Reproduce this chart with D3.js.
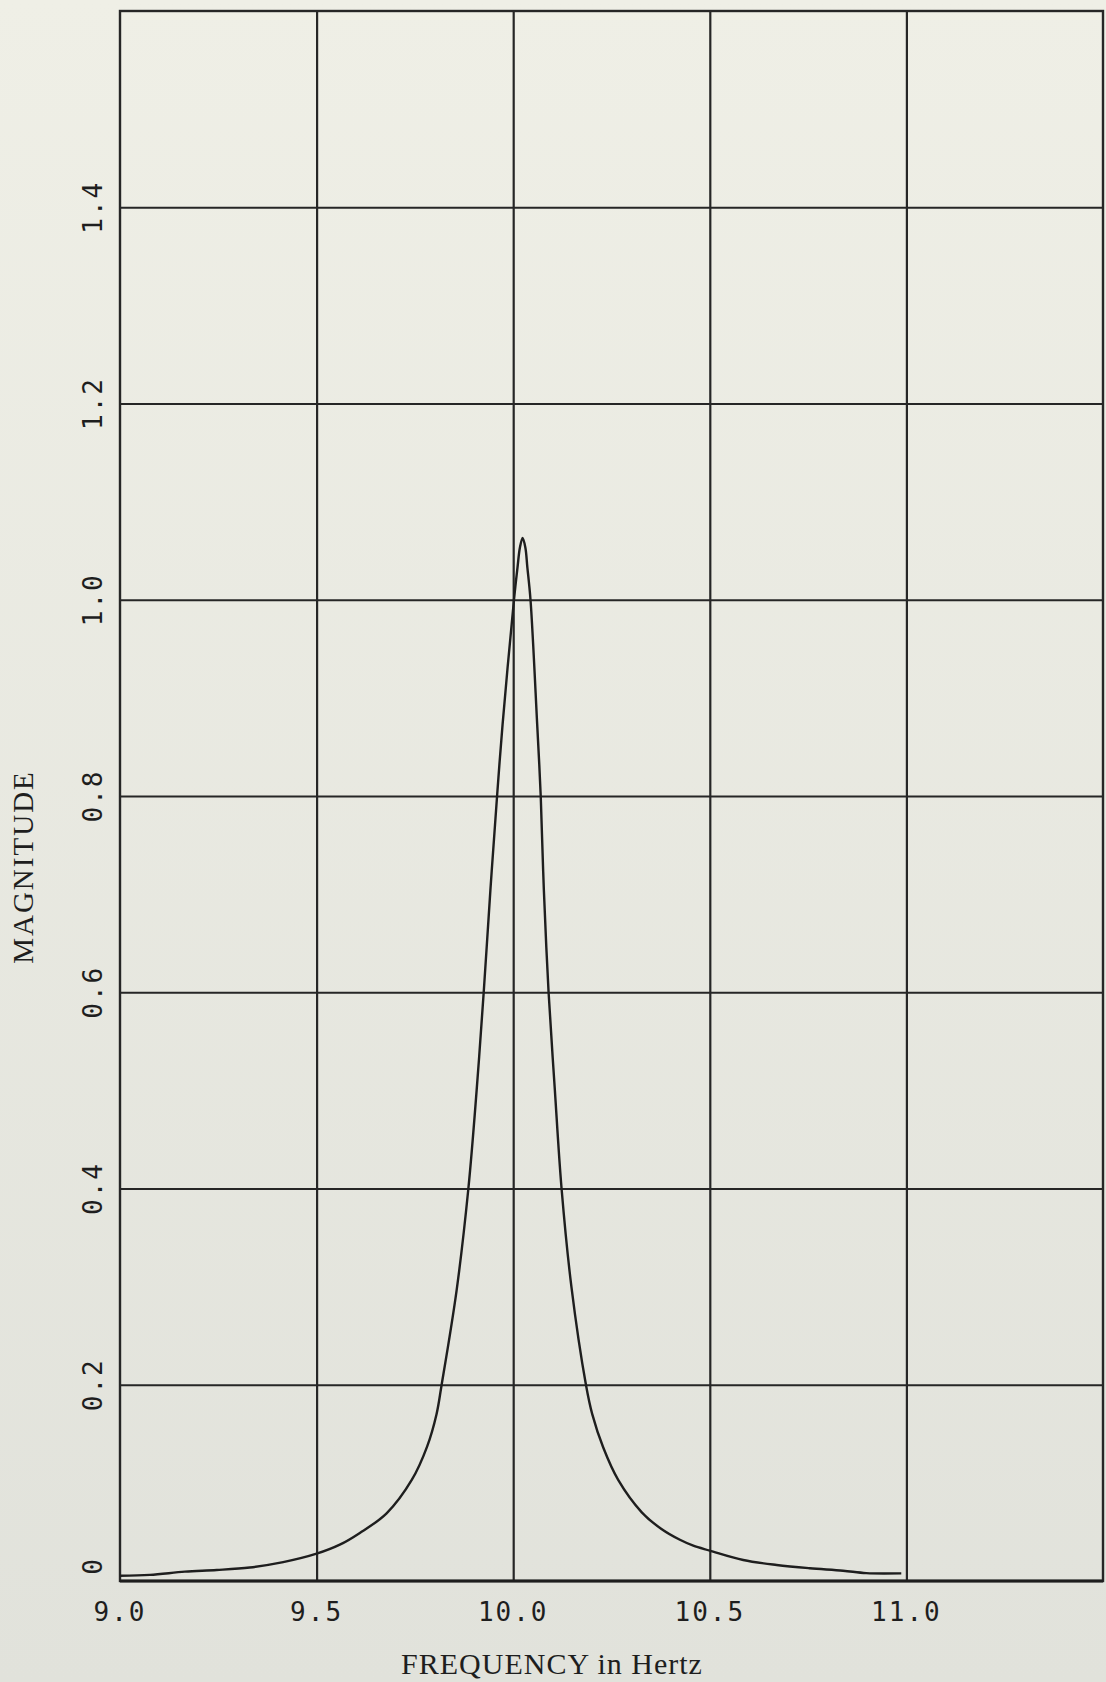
<!DOCTYPE html>
<html>
<head>
<meta charset="utf-8">
<script src="https://cdn.jsdelivr.net/npm/d3@7"></script>
<style>
    body { margin: 0; background: #e9e9e1; }
    .grid line { stroke: #262626; stroke-width: 2.2; }
    .tick-label { font-family: "DejaVu Sans Mono", monospace; font-size: 26px; fill: #1e1e1e; letter-spacing: 2px; }
    .label { font-family: "Liberation Serif", "Times New Roman", serif; fill: #1e1e1e; }
</style>
</head>
<body>
<div id="chart"></div>
<script>
// frequency (Hz) and magnitude
let freq = [9.000, 9.076, 9.165, 9.246, 9.330, 9.415, 9.500, 9.559, 9.610, 9.678,
    9.742, 9.781, 9.805, 9.818, 9.856, 9.886, 9.907, 9.925, 9.942, 9.959,
    9.973, 10.002, 10.011, 10.017, 10.024, 10.031, 10.036, 10.044, 10.061, 10.070,
    10.078, 10.090, 10.106, 10.123, 10.148, 10.185, 10.201, 10.229, 10.267, 10.327,
    10.377, 10.424, 10.458, 10.500, 10.585, 10.670, 10.754, 10.839, 10.898, 10.987];
let magnitude = [0.0054, 0.0062, 0.0095, 0.0112, 0.0138, 0.0192, 0.0278, 0.0370, 0.0490, 0.069,
    0.103, 0.137, 0.170, 0.200, 0.296, 0.400, 0.500, 0.600, 0.704, 0.800,
    0.873, 1.000, 1.033, 1.053, 1.063, 1.053, 1.033, 1.000, 0.873, 0.800,
    0.704, 0.600, 0.500, 0.400, 0.300, 0.200, 0.170, 0.136, 0.103, 0.070,
    0.053, 0.042, 0.036, 0.031, 0.0214, 0.0163, 0.0130, 0.0105, 0.0080, 0.0078];

let xTicks = [9.0, 9.5, 10.0, 10.5, 11.0];
let yTicks = [0, 0.2, 0.4, 0.6, 0.8, 1.0, 1.2, 1.4];
let xDomain = [9.0, 11.5];
let yDomain = [0, 1.6];

let margin = {top: 11, right: 3, left: 120, bottom: 101};
let width = 1106 - margin.left - margin.right;
let height = 1682 - margin.top - margin.bottom;

let svg = d3.select("#chart")
    .append("svg")
    .attr("width", width + margin.left + margin.right)
    .attr("height", height + margin.top + margin.bottom);

let grad = svg.append("defs").append("linearGradient")
    .attr("id", "paper")
    .attr("x1", 0).attr("y1", 0).attr("x2", 0).attr("y2", 1);
grad.append("stop").attr("offset", "0%").attr("stop-color", "#efefe6");
grad.append("stop").attr("offset", "100%").attr("stop-color", "#e1e2db");

svg.append("rect")
    .attr("width", 1106)
    .attr("height", 1682)
    .attr("fill", "url(#paper)");

let chart = svg.append("g")
    .attr("transform", "translate(" + margin.left + ", " + margin.top + ")");

let xScale = d3.scaleLinear().domain(xDomain).range([0, width]);
let yScale = d3.scaleLinear().domain(yDomain).range([height, 0]);

// grid lines
chart.append("g")
    .attr("class", "grid")
    .call(d3.axisBottom(xScale).tickValues(xTicks.slice(1)).tickSize(height).tickFormat(""))
    .call(g => g.select(".domain").remove());

chart.append("g")
    .attr("class", "grid")
    .call(d3.axisLeft(yScale).tickValues(yTicks.slice(1)).tickSize(-width).tickFormat(""))
    .call(g => g.select(".domain").remove());

// frame
chart.append("rect")
    .attr("width", width)
    .attr("height", height)
    .attr("fill", "none")
    .attr("stroke", "#262626")
    .attr("stroke-width", 2.4);

chart.append("line")
    .attr("x1", 0)
    .attr("x2", width)
    .attr("y1", yScale(0))
    .attr("y2", yScale(0))
    .attr("stroke", "#1e1e1e")
    .attr("stroke-width", 3.2);

// the response curve
let data = freq.map((f, i) => ({f: f, m: magnitude[i]}));

chart.append("path")
    .datum(data)
    .attr("d", d3.line()
        .x(d => xScale(d.f))
        .y(d => yScale(d.m))
        .curve(d3.curveCatmullRom.alpha(0.5)))
    .attr("fill", "none")
    .attr("stroke", "#1e1e1e")
    .attr("stroke-width", 2.4);

// tick labels
chart.selectAll(".xlab")
    .data(xTicks)
    .enter()
    .append("text")
    .attr("class", "tick-label")
    .attr("x", d => xScale(d))
    .attr("y", height + 40)
    .attr("text-anchor", "middle")
    .text(d => d.toFixed(1));

chart.selectAll(".ylab")
    .data(yTicks)
    .enter()
    .append("text")
    .attr("class", "tick-label")
    .attr("transform", d => "translate(" + (-27) + "," + (yScale(d) - (d === 0 ? 15 : 0)) + ") rotate(-90)")
    .attr("text-anchor", "middle")
    .attr("dominant-baseline", "central")
    .text(d => d === 0 ? "0" : d.toFixed(1));

// axis titles
svg.append("text")
    .attr("class", "label")
    .attr("x", 552)
    .attr("y", 1674)
    .attr("text-anchor", "middle")
    .style("font-size", "30px")
    .style("letter-spacing", "1px")
    .text("FREQUENCY in Hertz");

svg.append("text")
    .attr("class", "label")
    .attr("transform", "translate(23, 867) rotate(-90)")
    .attr("text-anchor", "middle")
    .attr("dominant-baseline", "central")
    .style("font-size", "29px")
    .style("letter-spacing", "2px")
    .text("MAGNITUDE");
</script>
</body>
</html>
